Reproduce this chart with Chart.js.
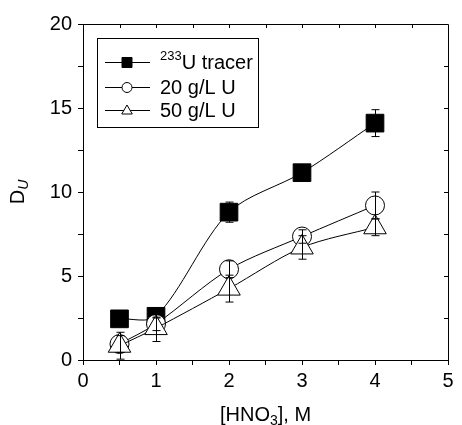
<!DOCTYPE html>
<html lang="en">
  <head>
    <meta charset="UTF-8" />
    <title>D_U vs HNO3</title>
    <script src="https://cdn.jsdelivr.net/npm/chart.js"></script>
    <style>
      body { margin: 0; background: #fff; }
    </style>
  </head>
  <body>
    <canvas id="duChart" width="462" height="425"></canvas>
    <script>
      const hno3 = [0.5, 1, 2, 3, 4];
      const tracer = [2.45, 2.6, 8.8, 11.15, 14.1];
      const tracerErr = [0.1, 0.1, 0.6, 0.15, 0.8];
      const u20 = [0.95, 2.15, 5.4, 7.35, 9.2];
      const u20Err = [0.5, 0.4, 0.5, 0.4, 0.8];
      const u50 = [0.85, 1.9, 4.25, 6.7, 7.9];
      const u50Err = [0.8, 0.8, 0.8, 0.7, 0.5];
      const seriesLabels = ["U tracer", "20 g/L U", "50 g/L U"];

      const FONT = "'Liberation Sans', Arial, Helvetica, sans-serif";

      function toPoints(ys) {
        return hno3.map((x, i) => ({ x: x, y: ys[i] }));
      }

      // little marker helper, used for the legend
      function marker(ctx, style, x, y, r) {
        ctx.beginPath();
        if (style === "rect") {
          ctx.rect(x - r, y - r, 2 * r, 2 * r);
          ctx.fillStyle = "#000";
        } else if (style === "circle") {
          ctx.arc(x, y, r, 0, Math.PI * 2);
          ctx.fillStyle = "#fff";
        } else {
          ctx.moveTo(x, y - r * 1.1);
          ctx.lineTo(x + r * 1.05, y + r * 0.7);
          ctx.lineTo(x - r * 1.05, y + r * 0.7);
          ctx.closePath();
          ctx.fillStyle = "#fff";
        }
        ctx.fill();
        ctx.stroke();
      }

      const extras = {
        id: "extras",
        afterDatasetsDraw(chart) {
          const ctx = chart.ctx;
          const xs = chart.scales.x;
          const ys = chart.scales.y;
          ctx.save();
          ctx.strokeStyle = "#000";
          ctx.lineWidth = 1;
          // error bars
          chart.data.datasets.forEach((ds) => {
            ds.data.forEach((p, i) => {
              const e = ds.err[i];
              const px = Math.round(xs.getPixelForValue(p.x)) + 0.5;
              const top = ys.getPixelForValue(p.y + e);
              const bot = ys.getPixelForValue(p.y - e);
              ctx.beginPath();
              ctx.moveTo(px, top);
              ctx.lineTo(px, bot);
              ctx.moveTo(px - 4, top);
              ctx.lineTo(px + 4, top);
              ctx.moveTo(px - 4, bot);
              ctx.lineTo(px + 4, bot);
              ctx.stroke();
            });
          });
          ctx.restore();
        },
        afterDraw(chart) {
          const ctx = chart.ctx;
          const a = chart.chartArea;
          const xs = chart.scales.x;
          const ys = chart.scales.y;
          ctx.save();
          ctx.strokeStyle = "#000";
          ctx.lineWidth = 1;
          // top and right frame with inward ticks
          ctx.beginPath();
          ctx.moveTo(a.left, a.top + 0.5);
          ctx.lineTo(a.right + 0.5, a.top + 0.5);
          ctx.lineTo(a.right + 0.5, a.bottom);
          for (let v = 0.5; v < 5; v += 0.5) {
            const px = Math.round(xs.getPixelForValue(v)) + 0.5;
            ctx.moveTo(px, a.top);
            ctx.lineTo(px, a.top + 4);
          }
          for (let v = 2.5; v < 20; v += 2.5) {
            const py = Math.round(ys.getPixelForValue(v)) + 0.5;
            ctx.moveTo(a.right, py);
            ctx.lineTo(a.right - 4, py);
          }
          ctx.stroke();

          // legend
          const bx = a.left + 14;
          const by = a.top + 14;
          ctx.strokeRect(bx + 0.5, by + 0.5, 161, 89);
          const styles = ["rect", "circle", "triangle"];
          const rowY = [by + 24, by + 49, by + 72];
          ctx.font = "20px " + FONT;
          ctx.textBaseline = "middle";
          ctx.fillStyle = "#000";
          styles.forEach((s, i) => {
            const y = rowY[i];
            ctx.beginPath();
            ctx.moveTo(bx + 8, y + 0.5);
            ctx.lineTo(bx + 53, y + 0.5);
            ctx.stroke();
            marker(ctx, s, bx + 30, y + 0.5, 5);
            ctx.fillStyle = "#000";
            let tx = bx + 63;
            if (i === 0) {
              ctx.font = "13px " + FONT;
              ctx.fillText("233", tx, y - 6);
              tx += ctx.measureText("233").width;
              ctx.font = "20px " + FONT;
            }
            ctx.fillText(seriesLabels[i], tx, y + 1);
          });

          // axis titles with subscripts
          ctx.textBaseline = "alphabetic";
          ctx.font = "20px " + FONT;
          const p1 = "[HNO", p2 = "3", p3 = "], M";
          const w1 = ctx.measureText(p1).width;
          const w3 = ctx.measureText(p3).width;
          ctx.font = "14px " + FONT;
          const w2 = ctx.measureText(p2).width;
          let tx = (a.left + a.right) / 2 - (w1 + w2 + w3) / 2;
          const ty = 421;
          ctx.font = "20px " + FONT;
          ctx.fillText(p1, tx, ty);
          ctx.font = "14px " + FONT;
          ctx.fillText(p2, tx + w1, ty + 4);
          ctx.font = "20px " + FONT;
          ctx.fillText(p3, tx + w1 + w2, ty);

          ctx.translate(24, (a.top + a.bottom) / 2);
          ctx.rotate(-Math.PI / 2);
          const dw = ctx.measureText("D").width;
          ctx.font = "italic 14px " + FONT;
          const uw = ctx.measureText("U").width;
          ctx.font = "20px " + FONT;
          ctx.fillText("D", -(dw + uw) / 2, 0);
          ctx.font = "italic 14px " + FONT;
          ctx.fillText("U", -(dw + uw) / 2 + dw, 4);
          ctx.restore();
        },
      };

      const ctx = document.getElementById("duChart").getContext("2d");
      new Chart(ctx, {
        type: "line",
        data: {
          datasets: [
            {
              label: seriesLabels[0],
              data: toPoints(tracer),
              err: tracerErr,
              pointStyle: "rect",
              pointRadius: 12.5,
              backgroundColor: "#000",
              order: 3,
            },
            {
              label: seriesLabels[1],
              data: toPoints(u20),
              err: u20Err,
              pointStyle: "circle",
              pointRadius: 9.5,
              backgroundColor: "#fff",
              order: 2,
            },
            {
              label: seriesLabels[2],
              data: toPoints(u50),
              err: u50Err,
              pointStyle: "triangle",
              pointRadius: 13,
              backgroundColor: "#fff",
              order: 1,
            },
          ],
        },
        options: {
          responsive: false,
          animation: false,
          layout: { padding: { top: 24, right: 7, left: 0, bottom: 0 } },
          elements: {
            line: {
              borderColor: "#000",
              borderWidth: 1,
              tension: 0.3,
            },
            point: { borderColor: "#000", borderWidth: 1 },
          },
          plugins: { legend: { display: false }, tooltip: { enabled: false } },
          scales: {
            x: {
              type: "linear",
              min: 0,
              max: 5,
              afterFit: (s) => { s.height = 65; },
              border: { color: "#000", width: 1 },
              grid: { drawOnChartArea: false, color: "#000", tickLength: 5 },
              ticks: {
                stepSize: 0.5,
                color: "#000",
                padding: 4,
                maxRotation: 0,
                autoSkip: false,
                font: { family: FONT, size: 20 },
                callback: (v) => (v % 1 === 0 ? v : ""),
              },
            },
            y: {
              min: 0,
              max: 20,
              afterFit: (s) => { s.width = 83; },
              border: { color: "#000", width: 1 },
              grid: { drawOnChartArea: false, color: "#000", tickLength: 5 },
              ticks: {
                stepSize: 2.5,
                color: "#000",
                padding: 6,
                autoSkip: false,
                font: { family: FONT, size: 20 },
                callback: (v) => (v % 5 === 0 ? v : ""),
              },
            },
          },
        },
        plugins: [extras],
      });
    </script>
  </body>
</html>
